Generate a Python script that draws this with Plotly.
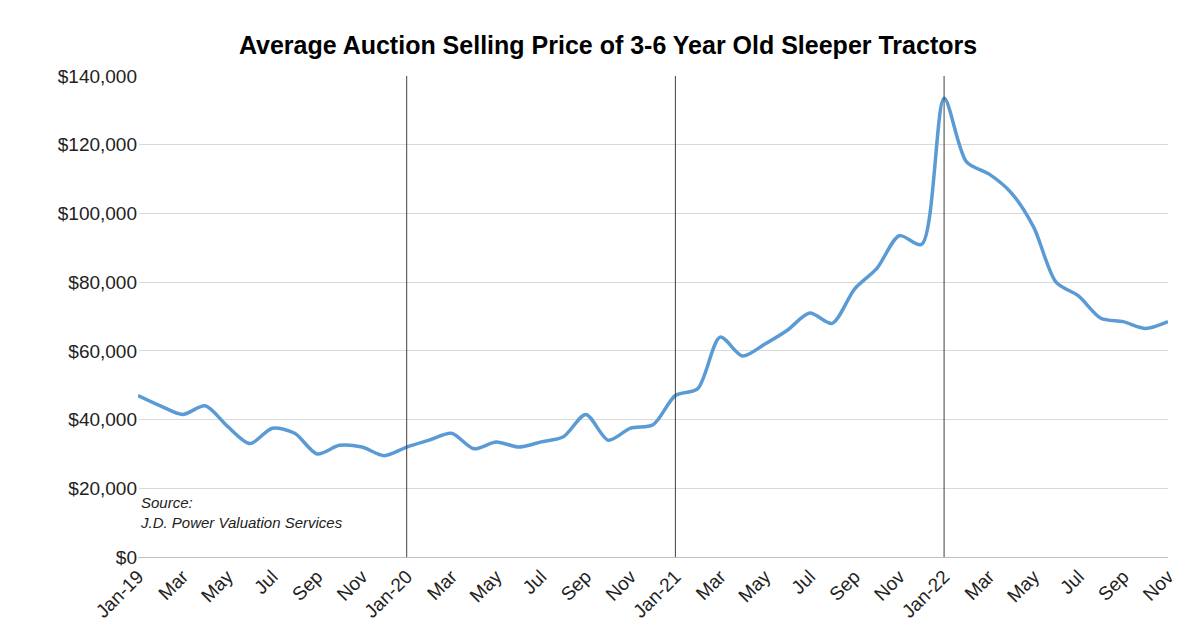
import plotly.graph_objects as go

months = ["Jan", "Feb", "Mar", "Apr", "May", "Jun", "Jul", "Aug", "Sep", "Oct", "Nov", "Dec"]
years = ["19", "20", "21", "22"]

prices = [
    47000, 44000, 41500, 44000, 38000, 33000, 37500, 36000, 30000, 32500, 32000, 29500,
    32000, 34000, 36000, 31500, 33500, 32000, 33500, 35000, 41500, 34000, 37500, 38500,
    47000, 49000, 64000, 58500, 62000, 66000, 71000, 68000, 78000, 84000, 93500, 91000,
    133500, 115000, 111500, 106000, 96000, 80000, 76000, 69500, 68500, 66500, 68500,
]

labels = []
for y in years:
    for m in months:
        labels.append(f"{m}-{y}" if m == "Jan" else m)
labels = labels[:len(prices)]
idx = list(range(len(prices)))

fig = go.Figure(go.Scatter(
    x=idx, y=prices, mode="lines",
    line=dict(color="#5B9BD5", width=3.5, shape="spline", smoothing=0.8),
    hoverinfo="skip",
))

for i in (12, 24, 36):
    fig.add_shape(type="line", x0=i, x1=i, y0=0, y1=140000, xref="x", yref="y",
                  line=dict(color="#404040", width=1))

fig.add_annotation(x=0, y=19000, xref="x", yref="y", xanchor="left", yanchor="top",
                   text="<i>Source:<br>J.D. Power Valuation Services</i>",
                   showarrow=False, align="left",
                   font=dict(family="Liberation Sans, Arial", size=15, color="#222"))

fig.update_layout(
    title=dict(text="<b>Average Auction Selling Price of 3-6 Year Old Sleeper Tractors</b>",
               x=0.5, y=0.955, xanchor="center",
               font=dict(family="Liberation Sans, Arial", size=25, color="black")),
    width=1200, height=639,
    margin=dict(l=130, r=40, t=68, b=90),
    plot_bgcolor="white", paper_bgcolor="white",
    showlegend=False,
    font=dict(family="Liberation Sans, Arial", size=19, color="#222"),
    xaxis=dict(tickvals=idx[::2], ticktext=labels[::2], tickangle=-45,
               range=[0, len(prices) - 1], showgrid=False,
               showline=True, linecolor="#bfbfbf", ticks=""),
    yaxis=dict(range=[0, 140000], dtick=20000, tickprefix="$", tickformat=",",
               showgrid=True, gridcolor="#d9d9d9", zeroline=False, ticks=""),
)

fig.write_html("out.html")
